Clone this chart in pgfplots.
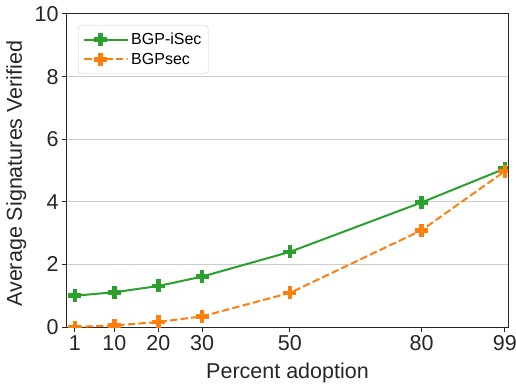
\documentclass[border=0pt]{standalone}
\usepackage{fontspec}
\setmainfont{Liberation Sans}
\usepackage{pgfplots}
\pgfplotsset{compat=1.18}
\definecolor{cgreen}{HTML}{2CA02C}
\definecolor{corange}{HTML}{FF7F0E}
\definecolor{spine}{HTML}{262626}
\begin{document}
\begin{tikzpicture}
\begin{axis}[
  at={(0pt,0pt)}, anchor=south west,
  scale only axis, width=441pt, height=313pt,
  xmin=-0.8, xmax=99.7, ymin=0, ymax=10,
  xtick={1,10,20,30,50,80,99}, ytick={0,2,4,6,8,10},
  clip mode=individual, clip marker paths=true,
  ymajorgrids, grid style={line width=1pt, color=black!20},
  axis line style={line width=1pt, spine},
  tick style={line width=1pt, spine}, tick align=outside, major tick length=5pt,
  tick pos=left,
  /pgf/number format/assume math mode=true,
  ticklabel style={font=\fontsize{21.5}{25}\selectfont, text=spine},
  label style={font=\fontsize{21.5}{25}\selectfont, text=spine},
  xlabel={Percent adoption}, ylabel={Average Signatures Verified},
  xlabel style={at={(axis description cs:0.5,-0.163)}, anchor=base},
  ylabel style={at={(axis description cs:-0.084,0.49)}, anchor=south},
  legend style={at={(axis description cs:0.025,0.964)}, anchor=north west,
    draw=black!20, rounded corners=3pt, fill=white, font=\fontsize{16}{19}\selectfont,
    row sep=3pt, inner xsep=5pt, inner ysep=5.5pt, nodes={inner sep=2pt}},
  legend cell align=left,
  legend image code/.code={\path (0pt,0pt) -- (44pt,0pt);
    \draw[mark repeat=2,mark phase=2] plot coordinates {(0pt,0pt) (16.5pt,0pt) (33pt,0pt)};},
]
\addplot[cgreen, line width=2pt, mark=+, mark size=6.5pt, mark options={solid, line width=4.5pt}]
  coordinates {(1,1.0) (10,1.11) (20,1.31) (30,1.61) (50,2.4) (80,3.98) (99,5.06)};
\addlegendentry{BGP-iSec}
\addplot[corange, line width=2pt, dash pattern=on 7.4pt off 3.2pt, mark=+, mark size=6.5pt, mark options={solid, line width=4.5pt}]
  coordinates {(1,0.0) (10,0.05) (20,0.16) (30,0.34) (50,1.09) (80,3.09) (99,4.98)};
\addlegendentry{BGPsec}
\end{axis}
\pgfresetboundingbox
\path (-67pt,-56pt) rectangle (449pt,327pt);
\end{tikzpicture}
\end{document}
